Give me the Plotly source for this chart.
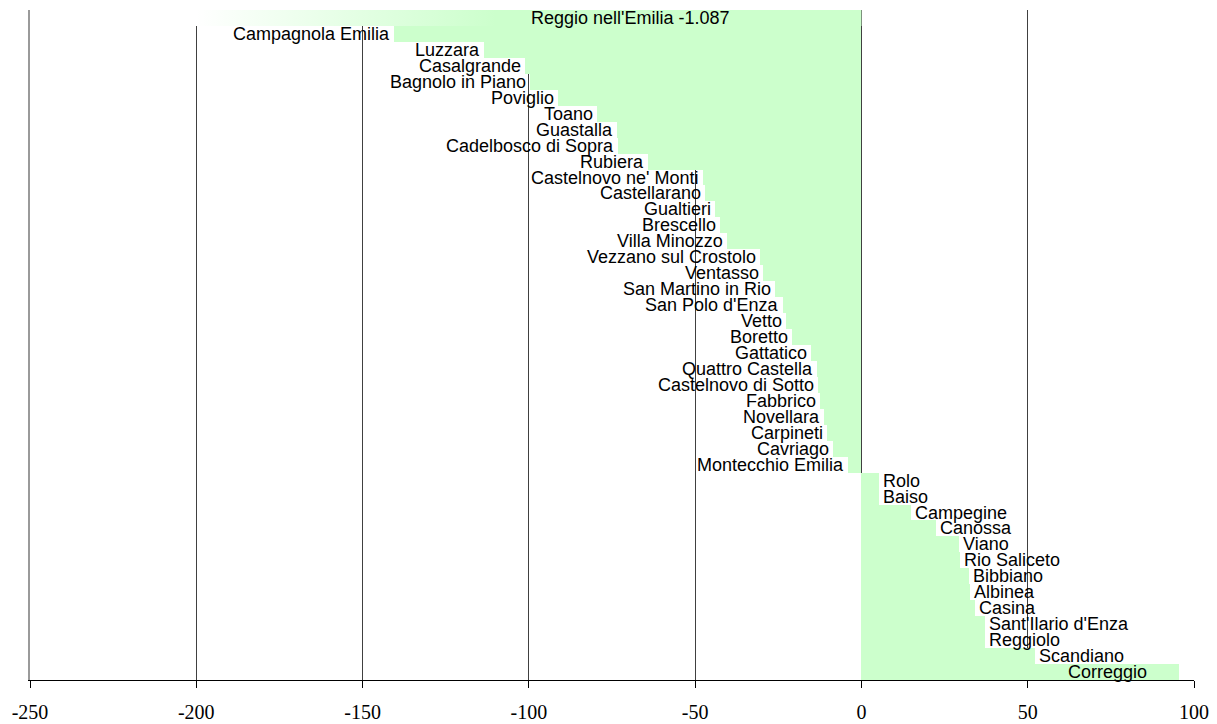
import plotly.graph_objects as go

# ---------------- data ----------------
comuni = [
    "Reggio nell'Emilia", "Campagnola Emilia", "Luzzara", "Casalgrande", "Bagnolo in Piano",
    "Poviglio", "Toano", "Guastalla", "Cadelbosco di Sopra", "Rubiera",
    "Castelnovo ne' Monti", "Castellarano", "Gualtieri", "Brescello", "Villa Minozzo",
    "Vezzano sul Crostolo", "Ventasso", "San Martino in Rio", "San Polo d'Enza", "Vetto",
    "Boretto", "Gattatico", "Quattro Castella", "Castelnovo di Sotto", "Fabbrico",
    "Novellara", "Carpineti", "Cavriago", "Montecchio Emilia", "Rolo",
    "Baiso", "Campegine", "Canossa", "Viano", "Rio Saliceto",
    "Bibbiano", "Albinea", "Casina", "Sant'Ilario d'Enza", "Reggiolo",
    "Scandiano", "Correggio",
]
valori = [
    -1087, -140.6, -113.4, -101.2, -99.7,
    -91.2, -79.5, -73.6, -73.2, -64.2,
    -47.6, -47.1, -44.1, -42.4, -40.3,
    -30.6, -29.6, -26.1, -23.6, -22.6,
    -20.8, -15.3, -13.3, -13.0, -12.5,
    -11.3, -10.3, -8.5, -4.0, 5.2,
    5.4, 15.0, 22.5, 29.4, 29.6,
    32.3, 32.5, 34.1, 37.1, 37.3,
    52.1, 95.4,
]
x_ticks = [-250, -200, -150, -100, -50, 0, 50, 100]

# ---------------- style ----------------
X_MIN, X_MAX = -250, 100
BREAK_AT = -200            # where the faded (broken) bar begins
BROKEN_LABEL_X = -69.5     # centre of the broken bar's label
GREEN = "#ccffcc"
LABEL_SIZE = 18
LABEL_FONT = dict(family="Arial, Liberation Sans, sans-serif", size=LABEL_SIZE, color="black")
TICK_FONT = dict(family="Times New Roman, Liberation Serif, serif", size=20, color="black")
PAD_BAR = 3      # px between bar end and label text
PAD_OUT = 2      # px of white box beyond the text

# Arial advance widths (1/1000 em) for sizing the white label boxes
ARIAL_W = {
    "A": 667, "B": 667, "C": 722, "D": 722, "E": 667, "F": 611, "G": 778, "H": 722,
    "I": 278, "J": 500, "K": 667, "L": 556, "M": 833, "N": 722, "O": 778, "P": 667,
    "Q": 778, "R": 722, "S": 667, "T": 611, "U": 722, "V": 667, "W": 944, "X": 667,
    "Y": 667, "Z": 611,
    "a": 556, "b": 556, "c": 500, "d": 556, "e": 556, "f": 278, "g": 556, "h": 556,
    "i": 222, "j": 222, "k": 500, "l": 222, "m": 833, "n": 556, "o": 556, "p": 556,
    "q": 556, "r": 333, "s": 500, "t": 278, "u": 556, "v": 500, "w": 722, "x": 500,
    "y": 500, "z": 500, " ": 278, "'": 191,
}


def text_px(s):
    return sum(ARIAL_W.get(c, 556) for c in s) * LABEL_SIZE / 1000.0


def fmt_it(v):
    return f"{v:,.0f}".replace(",", ".")


rows = list(range(len(comuni)))
colors = ["white" if v < X_MIN else GREEN for v in valori]

fig = go.Figure()
fig.add_trace(go.Bar(
    x=valori, y=rows, orientation="h",
    marker=dict(color=colors, line=dict(width=0)),
    width=1.0, hoverinfo="skip", showlegend=False,
))

# faded gradient for the off-scale bar(s)
for i, v in enumerate(valori):
    if v < X_MIN:
        gx = [BREAK_AT, 0, 0, BREAK_AT, BREAK_AT]
        gy = [i - 0.5, i - 0.5, i + 0.5, i + 0.5, i - 0.5]
        fig.add_trace(go.Scatter(
            x=gx, y=gy, mode="lines", fill="toself", line=dict(width=0),
            fillgradient=dict(type="horizontal",
                              colorscale=[[0, "#ffffff"], [0.45, GREEN], [1, GREEN]]),
            hoverinfo="skip", showlegend=False,
        ))

annotations = []
shapes = []
for i, (name, v) in enumerate(zip(comuni, valori)):
    w = text_px(name) + PAD_BAR + PAD_OUT + 1
    if v < X_MIN:
        annotations.append(dict(x=BROKEN_LABEL_X, y=i, text=f"{name} {fmt_it(v)}",
                                xanchor="center", yanchor="middle", showarrow=False,
                                font=LABEL_FONT))
    elif v < 0:
        shapes.append(dict(type="rect", xref="x", yref="y", xsizemode="pixel", xanchor=v,
                           x0=-w, x1=0, y0=i - 0.5, y1=i + 0.5, fillcolor="white",
                           line=dict(width=0), layer="below"))
        annotations.append(dict(x=v, y=i, text=name, xanchor="right", yanchor="middle",
                                showarrow=False, font=LABEL_FONT, xshift=-PAD_BAR + 1))
    elif v > 80:
        annotations.append(dict(x=v, y=i, text=name, xanchor="right", yanchor="middle",
                                showarrow=False, font=LABEL_FONT, xshift=-30))
    else:
        shapes.append(dict(type="rect", xref="x", yref="y", xsizemode="pixel", xanchor=v,
                           x0=0, x1=w, y0=i - 0.5, y1=i + 0.5, fillcolor="white",
                           line=dict(width=0), layer="below"))
        annotations.append(dict(x=v, y=i, text=name, xanchor="left", yanchor="middle",
                                showarrow=False, font=LABEL_FONT, xshift=PAD_BAR - 1))

fig.update_layout(
    width=1217, height=724,
    margin=dict(l=30, r=23, t=10, b=44, autoexpand=False),
    plot_bgcolor="white", paper_bgcolor="white",
    bargap=0, showlegend=False,
    annotations=annotations,
    shapes=shapes,
    xaxis=dict(
        range=[X_MIN, X_MAX], tickvals=x_ticks, ticktext=[str(t) for t in x_ticks],
        showgrid=True, gridcolor="#404040", gridwidth=1,
        zeroline=False, showline=True, linecolor="black", linewidth=1,
        ticks="outside", ticklen=7, tickcolor="black", tickwidth=1,
        tickfont=TICK_FONT, ticklabelstandoff=7, automargin=False,
    ),
    yaxis=dict(
        range=[len(comuni) - 0.5, -0.5], showticklabels=False, showgrid=False,
        zeroline=False, showline=True, linecolor="#9a9a9a", linewidth=2, ticks="",
        automargin=False,
    ),
)

fig.write_html("out.html", config={"displayModeBar": False},
               post_script="document.body.style.margin='0px';")
